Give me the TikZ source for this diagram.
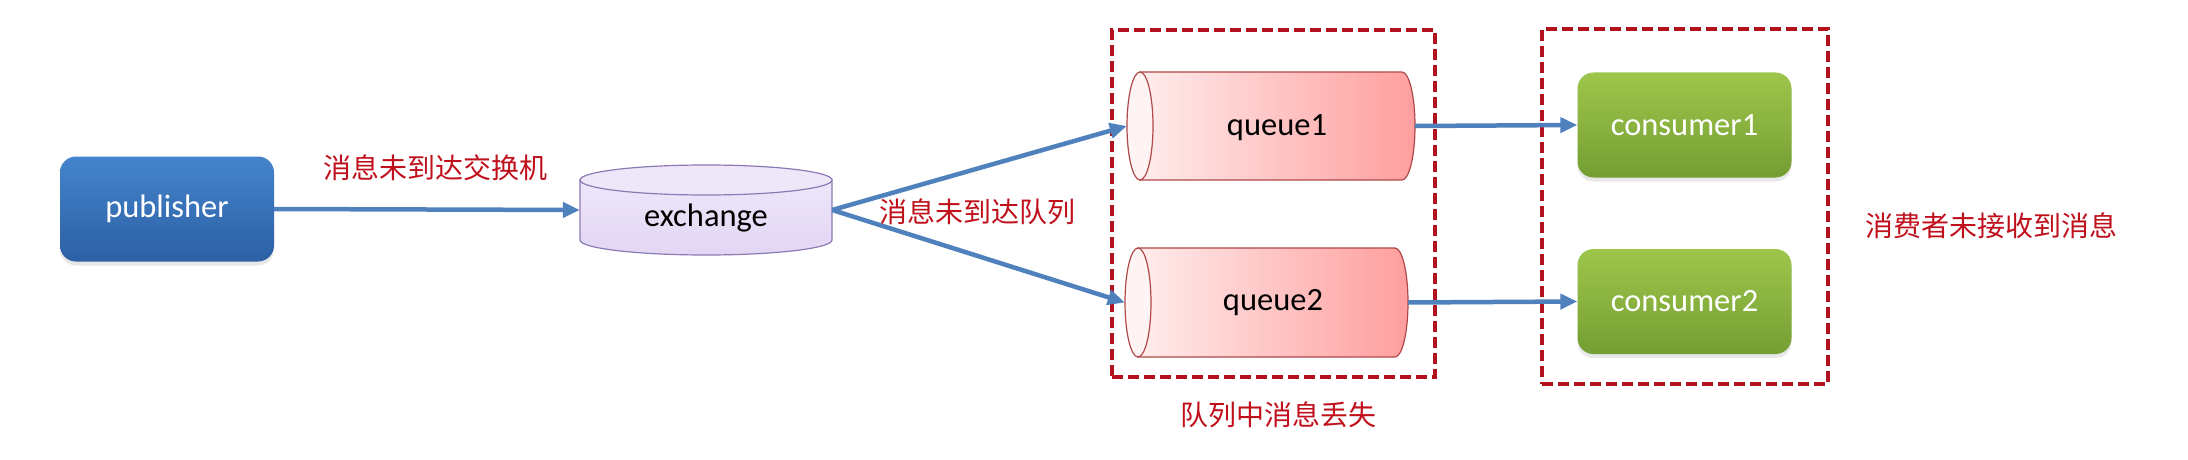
\documentclass[tikz,border=0pt]{standalone}
\usepackage{fontspec}
\setmainfont{Carlito}
\newfontfamily\cjk{Noto Sans CJK SC}
\usetikzlibrary{arrows.meta,shadows}
\definecolor{arrowblue}{RGB}{79,129,189}
\definecolor{lossred}{RGB}{192,16,28}
\definecolor{boxred}{RGB}{178,18,30}
\definecolor{pubtop}{RGB}{68,132,204}
\definecolor{pubbot}{RGB}{44,96,164}
\definecolor{contop}{RGB}{158,198,76}
\definecolor{conbot}{RGB}{116,158,50}
\definecolor{exfill}{RGB}{226,214,244}
\definecolor{exface}{RGB}{238,231,250}
\definecolor{exborder}{RGB}{140,122,178}
\definecolor{qleft}{RGB}{255,236,236}
\definecolor{qright}{RGB}{255,158,158}
\definecolor{qface}{RGB}{255,244,244}
\definecolor{qborder}{RGB}{176,72,72}
\tikzset{
  entxt/.style={font=\fontsize{32.5}{39}\selectfont},
  cntxt/.style={font=\cjk\fontsize{28}{34}\selectfont, text=lossred, inner sep=0pt},
  roundbox/.style={rounded corners=16pt, minimum width=214pt, minimum height=105pt, inner sep=0pt, text=white, entxt,
    drop shadow={opacity=0.18, shadow xshift=0pt, shadow yshift=-4pt}},
  pubbox/.style={roundbox, top color=pubtop, bottom color=pubbot},
  conbox/.style={roundbox, top color=contop, bottom color=conbot},
  anchorbox/.style={inner sep=0pt, draw=none},
  flow/.style={draw=arrowblue, line width=4.5pt, -{Triangle[length=17pt,width=15pt]}},
  lossbox/.style={draw=boxred, line width=4pt, dash pattern=on 11pt off 5pt, inner sep=0pt},
  cylline/.style={line width=1.2pt}
}
\begin{document}
\begin{tikzpicture}[x=1pt,y=1pt]
\useasboundingbox (0,0) rectangle (2188,459);
\fill[white] (0,0) rectangle (2188,459);

% publisher
\node[pubbox] (pub) at (167,250) {publisher};

% exchange cylinder (drawn), named node for anchors
\shade[top color=exface, bottom color=exfill, draw=exborder, cylline]
  (580,279) -- (580,219) arc[start angle=180, end angle=360, x radius=126pt, y radius=15pt] -- (832,279) -- cycle;
\filldraw[fill=exface, draw=exborder, cylline] (706,279) ellipse[x radius=126pt, y radius=15pt];
\node[anchorbox, minimum width=252pt, minimum height=90pt] (ex) at (706,249) {};
\node[entxt] (extxt) at (706,241) {exchange};

% queues
\shade[left color=qleft, right color=qright, draw=qborder, cylline]
  (1140,387) -- (1402,387) arc[start angle=90, end angle=-90, x radius=13pt, y radius=54pt] -- (1140,279) -- cycle;
\filldraw[fill=qface, draw=qborder, cylline] (1140,333) ellipse[x radius=13pt, y radius=54pt];
\node[anchorbox, minimum width=288pt, minimum height=108pt] (q1) at (1271,333) {};
\node[entxt] (q1txt) at (1277,331) {queue1};

\shade[left color=qleft, right color=qright, draw=qborder, cylline]
  (1138,211) -- (1395,211) arc[start angle=90, end angle=-90, x radius=13pt, y radius=54.5pt] -- (1138,102) -- cycle;
\filldraw[fill=qface, draw=qborder, cylline] (1138,156.5) ellipse[x radius=13pt, y radius=54.5pt];
\node[anchorbox, minimum width=283pt, minimum height=109pt] (q2) at (1266.5,156.5) {};
\node[entxt] (q2txt) at (1273,156) {queue2};

% consumers
\node[conbox] (c1) at (1684.5,334) {consumer1};
\node[conbox] (c2) at (1684.5,157.5) {consumer2};

% dashed groups
\node[lossbox, minimum width=323pt, minimum height=347pt] (g1) at (1273.5,255.5) {};
\node[lossbox, minimum width=286pt, minimum height=355pt] (g2) at (1685,252.5) {};

% connectors
\draw[flow] (pub.east) -- (ex.west);
\draw[flow] (ex.east) -- (q1.west);
\draw[flow] (ex.east) -- (q2.west);
\draw[flow] (q1.east) -- (c1.west);
\draw[flow] (q2.east) -- (c2.west);

% labels
\node[cntxt] (l1) at (435,291) {消息未到达交换机};
\node[cntxt] (l2) at (977,247) {消息未到达队列};
\node[cntxt] (l3) at (1278,44) {队列中消息丢失};
\node[cntxt] (l4) at (1991,233) {消费者未接收到消息};
\end{tikzpicture}
\end{document}
